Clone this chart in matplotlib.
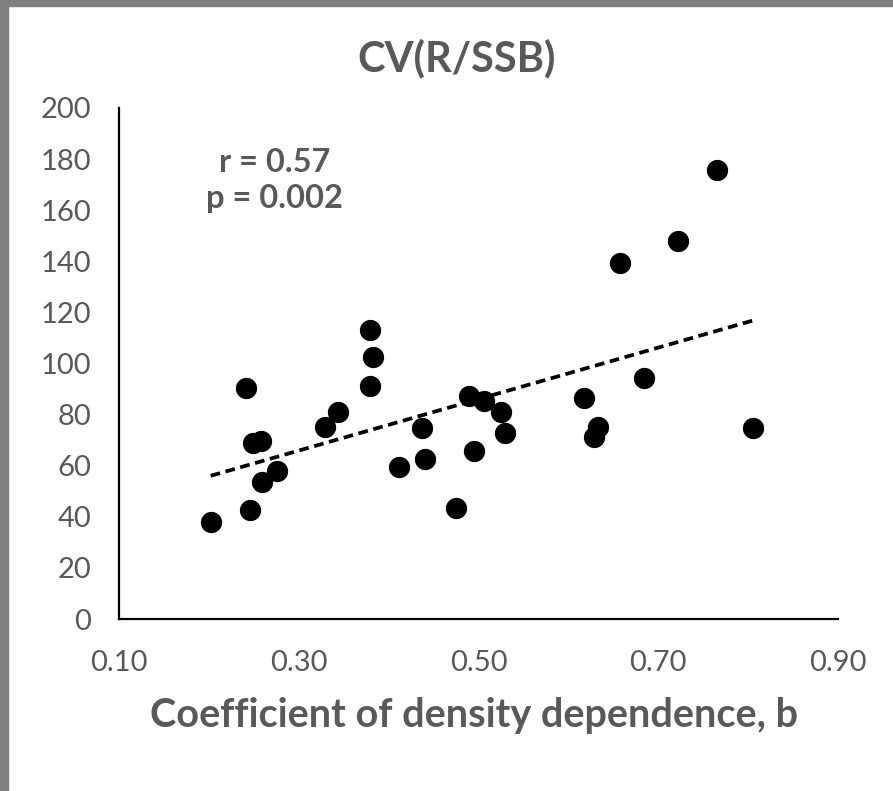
import numpy as np
import matplotlib
matplotlib.use('Agg')
import matplotlib.pyplot as plt
from matplotlib.patches import Rectangle

# Dados.
b = [0.202, 0.241, 0.246, 0.249, 0.258, 0.259, 0.276, 0.329, 0.344,
     0.379, 0.383, 0.379, 0.412, 0.437, 0.440, 0.475, 0.489, 0.495,
     0.506, 0.525, 0.530, 0.617, 0.629, 0.633, 0.657, 0.684, 0.722,
     0.765, 0.805]
cv = [38.1, 90.5, 42.5, 68.8, 69.8, 53.7, 58.0, 75.3, 81.1,
      113.1, 102.4, 91.2, 59.6, 74.6, 62.5, 43.6, 87.4, 65.8,
      85.4, 80.9, 72.7, 86.6, 71.2, 75.0, 139.3, 94.3, 148.0,
      175.7, 74.6]
xticks = [0.10, 0.30, 0.50, 0.70, 0.90]
yticks = [0, 20, 40, 60, 80, 100, 120, 140, 160, 180, 200]

cinza = '#595959'
plt.rcParams['font.family'] = ['Lato', 'DejaVu Sans']

fig = plt.figure(figsize=(8.93, 7.91), dpi=100)
ax = fig.add_axes([119/893, 172/791, 719/893, 511/791])

# Moldura cinza (topo e esquerda).
fig.patches.append(Rectangle((0, 1 - 6/791), 1, 6/791, transform=fig.transFigure,
                             color='#7f7f7f', zorder=10))
fig.patches.append(Rectangle((0, 0), 8/893, 1, transform=fig.transFigure,
                             color='#7f7f7f', zorder=10))

ax.scatter(b, cv, s=205, color='black', zorder=3)

# Linha de tendência linear.
coef = np.polyfit(b, cv, 1)
xt = np.array([min(b), max(b)])
ax.plot(xt, np.polyval(coef, xt), color='black', lw=2.7,
        linestyle=(0, (2.6, 1.5)), zorder=2)

ax.set_xlim(0.10, 0.90)
ax.set_ylim(0, 200)
ax.set_xticks(xticks)
ax.set_xticklabels([f'{v:.2f}' for v in xticks])
ax.set_yticks(yticks)
for s in ['top', 'right']:
    ax.spines[s].set_visible(False)
for s in ['left', 'bottom']:
    ax.spines[s].set_linewidth(1.6)
ax.tick_params(length=0, labelsize=21, labelcolor=cinza)
ax.tick_params(axis='x', pad=22)
ax.tick_params(axis='y', pad=20)

ax.set_xlabel('Coefficient of density dependence, b', fontsize=28.5,
              fontweight='bold', color=cinza, va='center')
ax.xaxis.set_label_coords(0.494, -0.188)
fig.text(457/893, 1 - 58/791, 'CV(R/SSB)', fontsize=30, fontweight='bold',
         color=cinza, ha='center', va='center')
ax.text(0.273, 171.5, 'r = 0.57\np = 0.002', fontsize=23.5, fontweight='bold',
        color=cinza, ha='center', va='center', linespacing=1.3)

fig.savefig('out.png', dpi=100)
